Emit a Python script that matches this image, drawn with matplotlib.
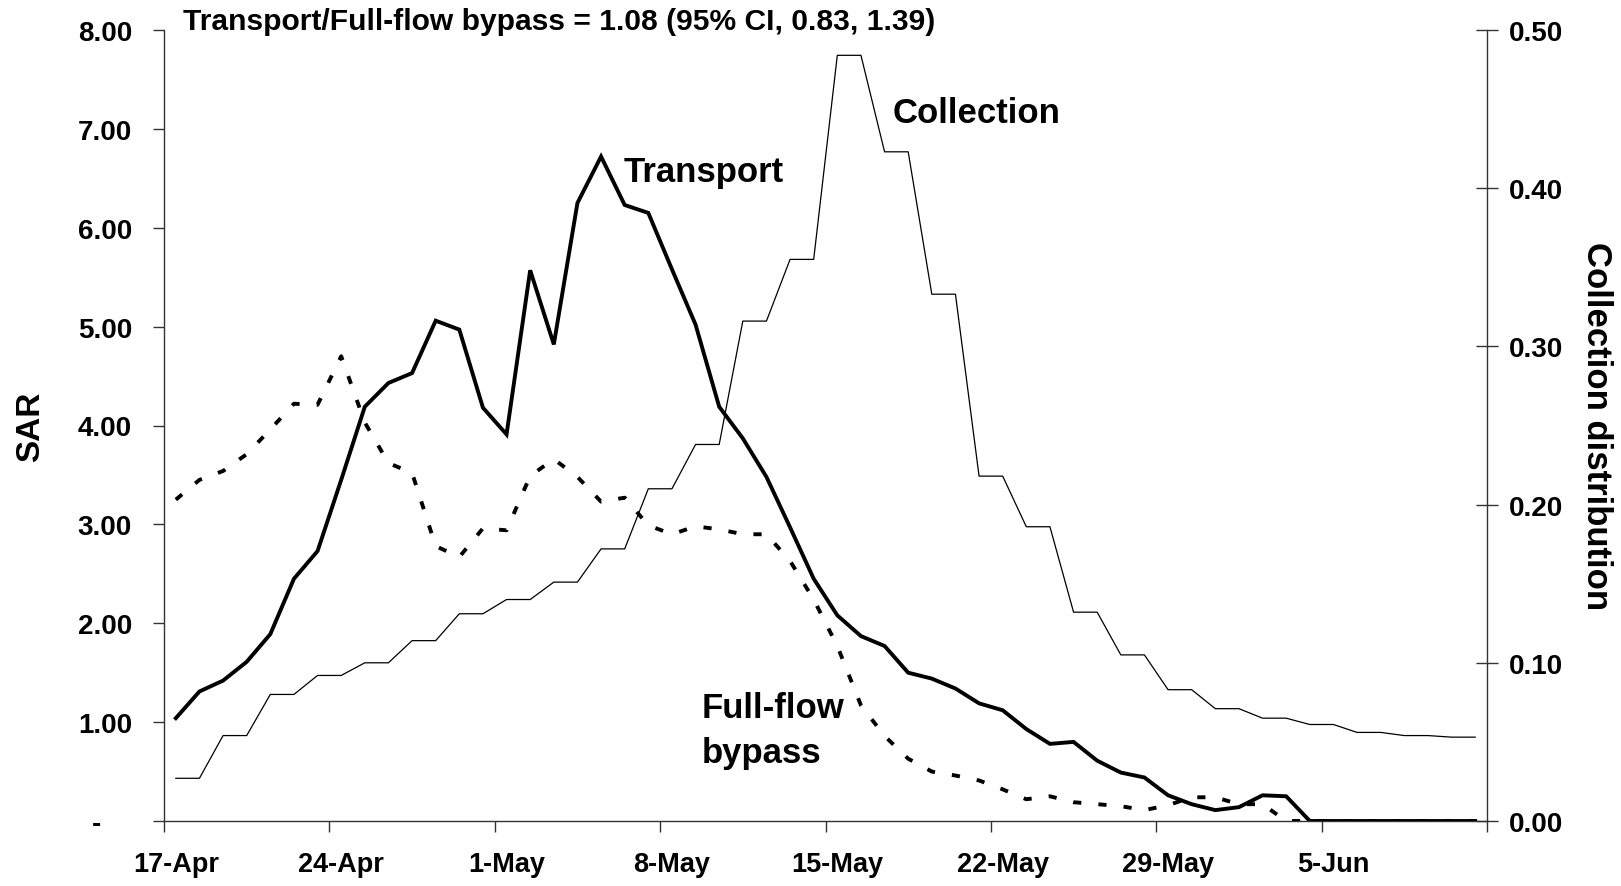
import numpy as np
import matplotlib
matplotlib.use('Agg')
import matplotlib.pyplot as plt
from matplotlib.ticker import FixedLocator, NullFormatter

plt.rcParams['font.family'] = ['Liberation Sans', 'DejaVu Sans']
plt.rcParams['font.weight'] = 'bold'

# daily values, 17-Apr .. 11-Jun (56 days)
date_labels = ['17-Apr', '24-Apr', '1-May', '8-May', '15-May', '22-May', '29-May', '5-Jun']

transport = [1.04, 1.31, 1.42, 1.61, 1.89, 2.45, 2.73, 3.45, 4.19, 4.43,
             4.53, 5.06, 4.97, 4.18, 3.91, 5.57, 4.82, 6.25, 6.72, 6.23,
             6.15, 5.58, 5.02, 4.19, 3.87, 3.48, 2.97, 2.45, 2.08, 1.87,
             1.77, 1.50, 1.44, 1.34, 1.19, 1.12, 0.93, 0.78, 0.80, 0.61,
             0.49, 0.44, 0.26, 0.17, 0.11, 0.14, 0.26, 0.25, 0.0, 0.0,
             0.0, 0.0, 0.0, 0.0, 0.0, 0.0]

bypass = [3.25, 3.45, 3.54, 3.71, 3.96, 4.22, 4.21, 4.70, 4.03, 3.62,
          3.52, 2.78, 2.67, 2.96, 2.94, 3.49, 3.66, 3.48, 3.23, 3.27,
          2.99, 2.90, 2.98, 2.95, 2.90, 2.90, 2.63, 2.24, 1.77, 1.17,
          0.86, 0.63, 0.50, 0.46, 0.41, 0.32, 0.22, 0.25, 0.19, 0.17,
          0.15, 0.11, 0.16, 0.24, 0.24, 0.17, 0.17, 0.0, 0.0, 0.0,
          0.0, 0.0, 0.0, 0.0, 0.0, 0.0]

collection = [0.027, 0.027, 0.054, 0.054, 0.080, 0.080, 0.092, 0.092,
              0.100, 0.100, 0.114, 0.114, 0.131, 0.131, 0.140, 0.140,
              0.151, 0.151, 0.172, 0.172, 0.210, 0.210, 0.238, 0.238,
              0.316, 0.316, 0.355, 0.355, 0.484, 0.484, 0.423, 0.423,
              0.333, 0.333, 0.218, 0.218, 0.186, 0.186, 0.132, 0.132,
              0.105, 0.105, 0.083, 0.083, 0.071, 0.071, 0.065, 0.065,
              0.061, 0.061, 0.056, 0.056, 0.054, 0.054, 0.053, 0.053]

days = np.arange(len(transport))
sar_ticks = [0, 1, 2, 3, 4, 5, 6, 7, 8]
coll_ticks = [0.0, 0.1, 0.2, 0.3, 0.4, 0.5]

fig = plt.figure(figsize=(16.21, 8.87), dpi=100)
ax = fig.add_axes([164/1621, 1-822/887, 1323/1621, 791/887])
ax2 = ax.twinx()

spine_c = '#333333'

# collection on the right axis (thin line)
ax2.plot(days, collection, color='black', lw=0.9, zorder=2)
ax.plot(days, transport, color='black', lw=2.8, zorder=3, solid_joinstyle='miter')
ax.plot(days, bypass, color='black', lw=2.8, dashes=(2.1, 4.4), dash_capstyle='butt', zorder=3)

ax.set_zorder(ax2.get_zorder() + 1)
ax.patch.set_visible(False)

ax.set_xlim(-0.5, len(days) - 0.5)
ax.set_ylim(0, 8)
ax2.set_ylim(0, 0.5)

# category axis: ticks between days, labels centred on days
ax.xaxis.set_major_locator(FixedLocator(np.arange(-0.5, len(days), 7)))
ax.xaxis.set_major_formatter(NullFormatter())
ax.xaxis.set_minor_locator(FixedLocator(np.arange(0, len(days), 7)))
ax.set_xticklabels(date_labels, minor=True)
ax.tick_params(axis='x', which='major', direction='out', length=8, width=1, color=spine_c)
ax.tick_params(axis='x', which='minor', length=0, pad=21.5, labelsize=19.5)

ax.set_yticks(sar_ticks)
ax.set_yticklabels(['-    '] + ['%.2f' % v for v in sar_ticks[1:]])
ax.tick_params(axis='y', direction='out', length=8, width=1, color=spine_c, pad=15, labelsize=20)

ax2.set_yticks(coll_ticks)
ax2.set_yticklabels(['%.2f' % v for v in coll_ticks])
ax2.tick_params(axis='y', direction='inout', length=16, width=1, color=spine_c, pad=8, labelsize=20)

for a in (ax, ax2):
    a.spines['top'].set_visible(False)
    for s in ('left', 'right', 'bottom'):
        a.spines[s].set_color(spine_c)
        a.spines[s].set_linewidth(1)
ax.spines['right'].set_visible(False)
ax2.spines['left'].set_visible(False)
ax2.spines['bottom'].set_visible(False)

ax.set_ylabel('SAR', fontsize=24, fontweight='bold', va='center')
ax.yaxis.set_label_coords(-0.101, 0.5)
ax2.set_ylabel('Collection distribution', fontsize=25, fontweight='bold', rotation=-90, va='center')
ax2.yaxis.set_label_coords(1.083, 0.5)

fig.text(183/1621, 1-22/887, 'Transport/Full-flow bypass = 1.08 (95% CI, 0.83, 1.39)',
         fontsize=21.6, fontweight='bold', va='center', ha='left')

ax.text(0.3477, 0.821, 'Transport', transform=ax.transAxes, fontsize=25, fontweight='bold', va='center')
ax.text(0.551, 0.896, 'Collection', transform=ax.transAxes, fontsize=25, fontweight='bold', va='center')
ax.text(0.4065, 0.143, 'Full-flow', transform=ax.transAxes, fontsize=25, fontweight='bold', va='center')
ax.text(0.4065, 0.087, 'bypass', transform=ax.transAxes, fontsize=25, fontweight='bold', va='center')

fig.savefig('out.png', dpi=100)
